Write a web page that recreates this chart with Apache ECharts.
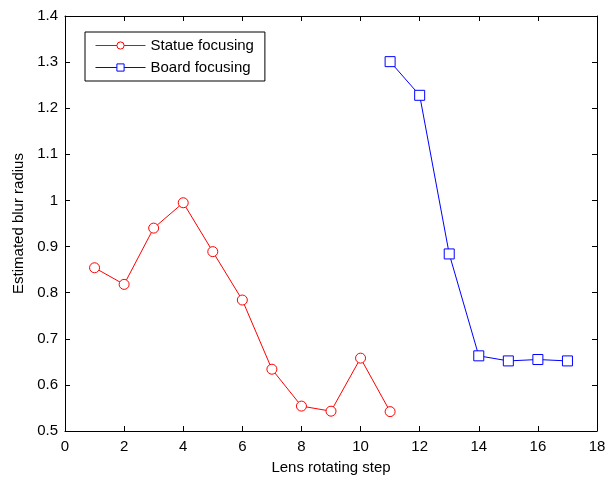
<!DOCTYPE html>
<html>
<head>
<meta charset="utf-8">
<script src="https://cdn.jsdelivr.net/npm/echarts@6/dist/echarts.min.js"></script>
<style>
  html, body { margin: 0; padding: 0; background: #fff; }
  #chart { width: 611px; height: 477px; }
</style>
</head>
<body>
<div id="chart"></div>
<script>
// data
const statueSteps = [1, 2, 3, 4, 5, 6, 7, 8, 9, 10, 11];
const statueBlur = [0.854, 0.818, 0.940, 0.995, 0.889, 0.784, 0.634, 0.554, 0.543, 0.658, 0.542];
const boardSteps = [11, 12, 13, 14, 15, 16, 17];
const boardBlur = [1.301, 1.228, 0.884, 0.663, 0.652, 0.655, 0.652];

const font = 'Liberation Sans';
const pairs = (xs, ys) => xs.map((x, i) => [x, ys[i]]);

const chart = echarts.init(document.getElementById('chart'));

const axisCommon = {
  axisLine: { show: true, onZero: false, lineStyle: { color: '#000', width: 1 } },
  axisTick: { show: true, inside: true, length: 5, lineStyle: { color: '#000' } },
  splitLine: { show: false }
};

chart.setOption({
  backgroundColor: '#fff',
  animation: false,
  grid: { left: 65, right: 14, top: 16, bottom: 46, outerBoundsMode: 'none' },
  legend: {
    left: 85,
    top: 32,
    orient: 'vertical',
    backgroundColor: '#fff',
    borderColor: '#000',
    borderWidth: 1,
    borderRadius: 0,
    padding: [6, 11, 6, 10],
    itemGap: 7,
    itemWidth: 50,
    itemHeight: 9,
    lineStyle: { width: 1 },
    itemStyle: { borderWidth: 1 },
    textStyle: { fontFamily: font, fontSize: 15, color: '#000' },
    data: ['Statue focusing', 'Board focusing']
  },
  xAxis: [
    Object.assign({
      type: 'value', min: 0, max: 18, interval: 2,
      name: 'Lens rotating step', nameLocation: 'middle', nameGap: 29,
      nameTextStyle: { fontFamily: font, fontSize: 15, color: '#000' },
      axisLabel: { fontFamily: font, fontSize: 15, color: '#000', margin: 8 }
    }, axisCommon),
    Object.assign({
      type: 'value', min: 0, max: 18, interval: 2, position: 'top',
      axisLabel: { show: false }
    }, axisCommon)
  ],
  yAxis: [
    Object.assign({
      type: 'value', min: 0.5, max: 1.4, interval: 0.1,
      name: 'Estimated blur radius', nameLocation: 'middle', nameGap: 39,
      nameTextStyle: { fontFamily: font, fontSize: 15, color: '#000' },
      axisLabel: {
        fontFamily: font, fontSize: 15, color: '#000', margin: 7,
        formatter: v => String(Math.round(v * 10) / 10)
      }
    }, axisCommon),
    Object.assign({
      type: 'value', min: 0.5, max: 1.4, interval: 0.1, position: 'right',
      axisLabel: { show: false }
    }, axisCommon)
  ],
  series: [
    {
      name: 'Statue focusing',
      type: 'line',
      data: pairs(statueSteps, statueBlur),
      symbol: 'circle',
      symbolSize: 10,
      lineStyle: { color: '#ff0000', width: 1 },
      itemStyle: { color: '#ffffff', borderColor: '#ff0000', borderWidth: 1 }
    },
    {
      name: 'Board focusing',
      type: 'line',
      data: pairs(boardSteps, boardBlur),
      symbol: 'rect',
      symbolSize: 10,
      lineStyle: { color: '#0000ff', width: 1 },
      itemStyle: { color: '#ffffff', borderColor: '#0000ff', borderWidth: 1 }
    }
  ]
});
</script>
</body>
</html>
